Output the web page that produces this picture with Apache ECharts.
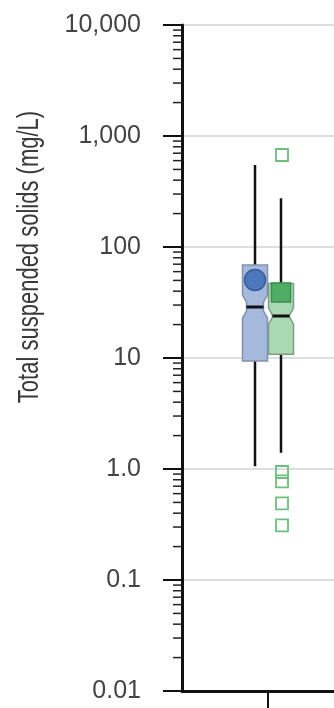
<!DOCTYPE html>
<html>
<head>
<meta charset="utf-8">
<script src="https://cdn.jsdelivr.net/npm/echarts@6/dist/echarts.min.js"></script>
<style>
html,body{margin:0;padding:0;background:#fff;}
#chart{width:334px;height:708px;}
</style>
</head>
<body>
<div id="chart"></div>
<script>
// ---- data ----
var categories = ['Site'];
var groupNames = ['Group A', 'Group B'];
var whiskerLow  = [1.06, 1.40];
var q1          = [9.4, 10.8];
var notchLow    = [22.9, 20.2];
var median      = [28.8, 23.9];
var notchHigh   = [36.9, 28.2];
var q3          = [69, 47];
var whiskerHigh = [548, 275];
var means       = [50.5, 39];
var outliersB   = [674, 0.94, 0.775, 0.49, 0.31];
var tickValues  = [0.01, 0.1, 1, 10, 100, 1000, 10000];
var tickLabels  = ['0.01', '0.1', '1.0', '10', '100', '1,000', '10,000'];
var yTitle = 'Total suspended solids (mg/L)';

// minor tick positions (axis decoration: 2..9 within each decade)
var minorTicks = [];
for (var d = 0; d < tickValues.length - 1; d++) {
  for (var m = 2; m <= 9; m++) minorTicks.push([0, tickValues[d] * m]);
}

function boxItem(i) {
  return [0, whiskerLow[i], q1[i], notchLow[i], median[i], notchHigh[i], q3[i], whiskerHigh[i]];
}

var fills = ['#a5b9dc', '#a9d9b3'];
var strokes = ['#8191ab', '#7e9c86'];
var offsets = [-13, 13];

function boxRender(gi) {
  return function (params, api) {
    var cat = api.value(0);
    var yv = function (k) { return api.coord([cat, api.value(k)])[1]; };
    var cx = api.coord([cat, api.value(4)])[0] + offsets[gi];
    var wLo = yv(1), bq1 = yv(2), nLo = yv(3), med = yv(4), nHi = yv(5), bq3 = yv(6), wHi = yv(7);
    var hw = 12.5, inset = 4, taper = 7;
    var L = cx - hw, R = cx + hw;
    var pts = [
      [L, bq3], [R, bq3], [R, nHi], [R - inset, nHi + taper], [R - inset, nLo - taper], [R, nLo],
      [R, bq1], [L, bq1], [L, nLo], [L + inset, nLo - taper], [L + inset, nHi + taper], [L, nHi]
    ];
    return {
      type: 'group',
      children: [
        { type: 'line', shape: { x1: cx, y1: wHi, x2: cx, y2: wLo }, style: { stroke: '#111', lineWidth: 2.5 } },
        { type: 'polygon', shape: { points: pts }, style: { fill: fills[gi], stroke: strokes[gi], lineWidth: 1.5 } },
        { type: 'line', shape: { x1: L + inset, y1: med, x2: R - inset, y2: med }, style: { stroke: '#111', lineWidth: 3 } }
      ]
    };
  };
}

var chart = echarts.init(document.getElementById('chart'));
var labelFont = '"Liberation Sans", Arial, Helvetica, sans-serif';

var option = {
  animation: false,
  grid: { left: 182, width: 172, top: 25, bottom: 17, containLabel: false, outerBoundsMode: 'none' },
  xAxis: {
    type: 'category',
    data: categories,
    boundaryGap: true,
    axisLine: { show: true, lineStyle: { color: '#111', width: 3 } },
    axisTick: { show: true, alignWithLabel: true, length: 17, lineStyle: { color: '#111', width: 2 } },
    axisLabel: { show: false },
    splitLine: { show: false }
  },
  yAxis: {
    type: 'log',
    logBase: 10,
    min: 0.01,
    max: 10000,
    interval: 1,
    axisLine: { show: true, onZero: false, lineStyle: { color: '#111', width: 3 } },
    axisTick: { show: true, length: 19, lineStyle: { color: '#111', width: 2 } },
    axisLabel: {
      margin: 41,
      fontSize: 25,
      color: '#444',
      fontFamily: labelFont,
      formatter: function (v) {
        for (var i = 0; i < tickValues.length; i++) {
          if (Math.abs(Math.log10(v) - Math.log10(tickValues[i])) < 1e-6) return tickLabels[i];
        }
        return '';
      }
    },
    splitLine: { show: true, lineStyle: { color: '#d3d3d3', width: 1.5 } }
  },
  graphic: [{
    type: 'text',
    x: 30, y: 257,
    rotation: Math.PI / 2,
    scaleX: 1,
    scaleY: 1.3,
    style: {
      text: yTitle,
      fontSize: 22,
      fontFamily: labelFont,
      fill: '#3a3a3a',
      align: 'center',
      verticalAlign: 'middle'
    }
  }],
  series: [
    {
      type: 'custom',
      name: 'minorTicks',
      clip: false,
      silent: true,
      z: 5,
      data: minorTicks,
      encode: { x: 0, y: 1 },
      renderItem: function (params, api) {
        var y = api.coord([0, api.value(1)])[1];
        var x = params.coordSys.x;
        return { type: 'line', shape: { x1: x - 9, y1: y, x2: x, y2: y }, style: { stroke: '#222', lineWidth: 1.5 } };
      }
    },
    {
      type: 'custom',
      name: groupNames[0],
      z: 2,
      data: [boxItem(0)],
      encode: { x: 0, y: [1, 2, 3, 4, 5, 6, 7] },
      renderItem: boxRender(0)
    },
    {
      type: 'custom',
      name: groupNames[1],
      z: 2,
      data: [boxItem(1)],
      encode: { x: 0, y: [1, 2, 3, 4, 5, 6, 7] },
      renderItem: boxRender(1)
    },
    {
      type: 'scatter',
      name: groupNames[0] + ' mean',
      z: 4,
      symbol: 'circle',
      symbolSize: 21,
      symbolOffset: [offsets[0], 0],
      itemStyle: { color: '#4f77bc', borderColor: '#3a5d9a', borderWidth: 1.5, opacity: 1 },
      data: [[categories[0], means[0]]]
    },
    {
      type: 'scatter',
      name: groupNames[1] + ' mean',
      z: 4,
      symbol: 'rect',
      symbolSize: 19,
      symbolOffset: [offsets[1], 0],
      itemStyle: { color: '#4fae64', borderColor: '#3d8c50', borderWidth: 1.5, opacity: 1 },
      data: [[categories[0], means[1]]]
    },
    {
      type: 'scatter',
      name: groupNames[1] + ' outliers',
      z: 4,
      symbol: 'rect',
      symbolSize: 12,
      symbolOffset: [offsets[1] + 1, 0],
      itemStyle: { color: 'rgba(0,0,0,0)', borderColor: '#6cbf7e', borderWidth: 1.8, opacity: 1 },
      data: outliersB.map(function (v) { return [categories[0], v]; })
    }
  ]
};
chart.setOption(option);
</script>
</body>
</html>
